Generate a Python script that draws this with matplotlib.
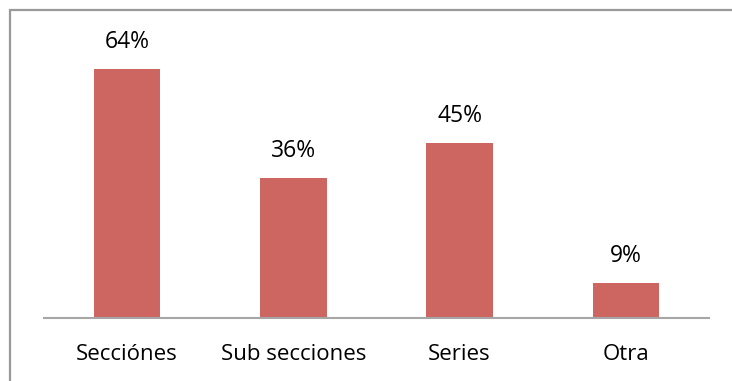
import matplotlib
matplotlib.use("Agg")
import matplotlib.pyplot as plt
from matplotlib.patches import Rectangle

categories = ["Secciónes", "Sub secciones", "Series", "Otra"]
values = [64, 36, 45, 9]
labels = ["64%", "36%", "45%", "9%"]

BAR = "#CD6660"
W, H = 732, 381

plt.rcParams["font.family"] = ["Open Sans", "DejaVu Sans"]

fig = plt.figure(figsize=(W / 100, H / 100), dpi=100)
ax = fig.add_axes([44 / W, (H - 318) / H, (709 - 44) / W, (318 - 45.7) / H])

x = range(len(categories))
bars = ax.bar(x, values, width=0.4, color=BAR, edgecolor="none")
ax.set_xlim(-0.5, len(categories) - 0.5)
ax.set_ylim(0, 70)

for b, lab in zip(bars, labels):
    ax.annotate(lab, (b.get_x() + b.get_width() / 2, b.get_height()),
                xytext=(0, 11), textcoords="offset points",
                ha="center", va="bottom", fontsize=16.5, color="black")

ax.set_xticks(list(x))
ax.set_xticklabels(categories, fontsize=16)
ax.tick_params(axis="x", length=0, pad=18.5)
ax.set_yticks([])
for side in ["left", "right", "top"]:
    ax.spines[side].set_visible(False)
ax.spines["bottom"].set_color("#A6A6A6")
ax.spines["bottom"].set_linewidth(1.5)

# chart area border (cut off on the right and bottom in the source)
fig.patches.append(Rectangle((10 / W, -0.1), 1.2, (H - 10) / H + 0.1,
                             transform=fig.transFigure, fill=False,
                             edgecolor="#999999", linewidth=1.6))

fig.savefig("out.png", dpi=100)
